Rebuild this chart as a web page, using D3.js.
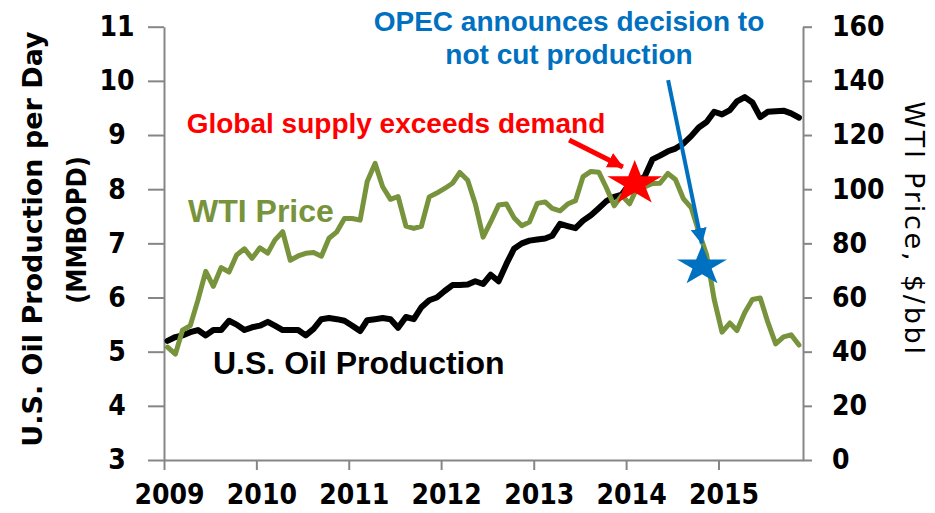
<!DOCTYPE html>
<html>
<head>
<meta charset="utf-8">
<script src="https://cdn.jsdelivr.net/npm/d3@7"></script>
<style>
  html, body { margin: 0; padding: 0; background: #fff; }
  svg { display: block; }
  .axis-font { font-family: "DejaVu Sans Condensed", "DejaVu Sans", sans-serif; font-stretch: condensed; }
  .title-wide { font-family: "DejaVu Sans", sans-serif; }
  .note { font-family: "Liberation Sans", Arial, sans-serif; font-weight: bold; }
</style>
</head>
<body>
<svg id="chart"></svg>
<script>
// Monthly series, Jan 2009 - Nov 2015
const wtiPrice = [
  41.68, 39.09, 47.94, 49.65, 59.03, 69.64, 64.15, 71.05, 69.41, 75.72, 77.99, 74.47, // 2009
  78.33, 76.39, 81.20, 84.29, 73.74, 75.34, 76.32, 76.60, 75.24, 81.89, 84.25, 89.15, // 2010
  89.17, 88.58, 102.86, 109.53, 100.90, 96.26, 97.30, 86.33, 85.52, 86.32, 97.16, 98.56, // 2011
  100.27, 102.20, 106.16, 103.32, 94.66, 82.30, 87.90, 94.13, 94.51, 89.49, 86.53, 87.86, // 2012
  94.76, 95.31, 92.94, 92.02, 94.51, 95.77, 104.67, 106.57, 106.29, 100.54, 93.86, 97.63, // 2013
  94.62, 100.82, 100.80, 102.07, 102.18, 105.79, 103.59, 96.54, 93.21, 84.40, 75.79, 59.29, // 2014
  47.22, 50.58, 47.82, 54.45, 59.27, 59.82, 50.90, 42.87, 45.48, 46.22, 42.44 // 2015
];

const usProduction = [
  5.20, 5.27, 5.30, 5.36, 5.40, 5.30, 5.40, 5.40, 5.57, 5.50, 5.40, 5.45, // 2009
  5.48, 5.55, 5.48, 5.40, 5.40, 5.40, 5.30, 5.42, 5.60, 5.62, 5.60, 5.57, // 2010
  5.48, 5.38, 5.58, 5.60, 5.62, 5.60, 5.44, 5.64, 5.60, 5.82, 5.95, 6.00, // 2011
  6.12, 6.23, 6.23, 6.24, 6.30, 6.25, 6.42, 6.30, 6.62, 6.90, 7.00, 7.05, // 2012
  7.07, 7.09, 7.14, 7.36, 7.32, 7.28, 7.42, 7.52, 7.65, 7.78, 7.86, 7.90, // 2013
  8.10, 8.15, 8.23, 8.55, 8.62, 8.70, 8.75, 8.84, 8.98, 9.14, 9.24, 9.43, // 2014
  9.38, 9.46, 9.62, 9.70, 9.60, 9.33, 9.43, 9.44, 9.45, 9.40, 9.32 // 2015
];

const yearTicks = [2009, 2010, 2011, 2012, 2013, 2014, 2015];
const leftTicks = [3, 4, 5, 6, 7, 8, 9, 10, 11];
const rightTicks = [0, 20, 40, 60, 80, 100, 120, 140, 160];

// Annotation anchors (date, WTI $/bbl)
const starDates = ["2014-02-04", "2014-10-28"];
const starPrices = [102.1, 71.6];
const arrowFrom = [["2013-05-21", 118.2], ["2014-06-16", 140.3]];
const arrowTo = [["2013-12-19", 108.2], ["2014-10-27", 80.0]];

const COLORS = { production: "#000000", wti: "#77933C", red: "#FF0000", blue: "#0070C0", axis: "#868686" };

const width = 935, height = 513;
const plot = { left: 164, right: 803, top: 26.7, bottom: 460 };

const parse = d3.timeParse("%Y-%m-%d");
const months = d3.timeMonth
  .range(new Date(2009, 0, 1), new Date(2015, 11, 1))
  .map((d) => d3.timeDay.offset(d, 14));

const x = d3.scaleTime()
  .domain([new Date(2009, 0, 1), new Date(2015, 11, 1)])
  .range([plot.left, plot.right]);
const yLeft = d3.scaleLinear().domain([3, 11]).range([plot.bottom, plot.top]);
const yRight = d3.scaleLinear().domain([0, 160]).range([plot.bottom, plot.top]);

const svg = d3.select("#chart").attr("width", width).attr("height", height);

// axes
const gx = svg.append("g")
  .attr("class", "axis-font")
  .attr("transform", `translate(0,${plot.bottom})`)
  .call(d3.axisBottom(x)
    .tickValues(yearTicks.map((y) => new Date(y, 0, 1)))
    .tickFormat(d3.timeFormat("%Y"))
    .tickSize(10).tickSizeOuter(0).tickPadding(14));

const gl = svg.append("g")
  .attr("class", "axis-font")
  .attr("transform", `translate(${plot.left},0)`)
  .call(d3.axisLeft(yLeft).tickValues(leftTicks).tickSize(16).tickSizeOuter(0));

const gr = svg.append("g")
  .attr("class", "axis-font")
  .attr("transform", `translate(${plot.right},0)`)
  .call(d3.axisRight(yRight).tickValues(rightTicks).tickSize(9).tickSizeOuter(0).tickPadding(20));

[gx, gl, gr].forEach((g) => {
  g.select(".domain").attr("stroke", COLORS.axis).attr("stroke-width", 2);
  g.selectAll(".tick line").attr("stroke", COLORS.axis).attr("stroke-width", 2);
  g.selectAll(".tick text")
    .attr("fill", "#000")
    .style("font-size", "28px")
    .style("font-weight", "bold");
});
gl.selectAll(".tick text").attr("x", -47).attr("text-anchor", "middle");
gx.selectAll(".tick text").attr("dx", 5);

// axis titles
svg.append("text")
  .attr("class", "title-wide")
  .attr("transform", "translate(42,239) rotate(-90)")
  .attr("text-anchor", "middle")
  .style("font-size", "27px")
  .style("font-weight", "bold")
  .text("U.S. Oil Production per Day");
svg.append("text")
  .attr("class", "axis-font")
  .attr("transform", "translate(86,230) rotate(-90)")
  .attr("text-anchor", "middle")
  .style("font-size", "27px")
  .style("font-weight", "bold")
  .text("(MMBOPD)");

svg.append("text")
  .attr("class", "title-wide")
  .attr("transform", "translate(905,229) rotate(90)")
  .attr("text-anchor", "middle")
  .style("font-size", "27px")
  .style("letter-spacing", "2.8px")
  .text("WTI Price, $/bbl");

// series lines
const prodLine = d3.line()
  .x((d, i) => x(months[i]))
  .y((d) => yLeft(d));
const wtiLine = d3.line()
  .x((d, i) => x(months[i]))
  .y((d) => yRight(d));

svg.append("path")
  .datum(usProduction)
  .attr("fill", "none")
  .attr("stroke", COLORS.production)
  .attr("stroke-width", 6)
  .attr("stroke-linejoin", "round")
  .attr("stroke-linecap", "round")
  .attr("d", prodLine);

svg.append("path")
  .datum(wtiPrice)
  .attr("fill", "none")
  .attr("stroke", COLORS.wti)
  .attr("stroke-width", 5)
  .attr("stroke-linejoin", "round")
  .attr("stroke-linecap", "round")
  .attr("d", wtiLine);

// series labels
svg.append("text").attr("class", "note")
  .attr("x", 188).attr("y", 222)
  .attr("fill", COLORS.wti)
  .style("font-size", "32px")
  .text("WTI Price");
svg.append("text").attr("class", "note")
  .attr("x", 213).attr("y", 374)
  .attr("fill", "#000")
  .style("font-size", "32px")
  .text("U.S. Oil Production");

// annotations
svg.append("text").attr("class", "note")
  .attr("x", 396).attr("y", 133)
  .attr("text-anchor", "middle")
  .attr("fill", COLORS.red)
  .style("font-size", "28px")
  .text("Global supply exceeds demand");

const opec = svg.append("text").attr("class", "note")
  .attr("text-anchor", "middle")
  .attr("fill", COLORS.blue)
  .style("font-size", "28px");
opec.append("tspan").attr("x", 569).attr("y", 31).text("OPEC announces decision to");
opec.append("tspan").attr("x", 569).attr("y", 64).text("not cut production");

// arrowheads
const defs = svg.append("defs");
[["head-red", COLORS.red], ["head-blue", COLORS.blue]].forEach(([id, c]) => {
  defs.append("marker")
    .attr("id", id)
    .attr("markerUnits", "userSpaceOnUse")
    .attr("viewBox", "0 0 16 16")
    .attr("refX", 15).attr("refY", 8)
    .attr("markerWidth", 16).attr("markerHeight", 16)
    .attr("orient", "auto")
    .append("path")
    .attr("d", "M0,0L16,8L0,16Z")
    .attr("fill", c);
});

const arrowColors = [COLORS.red, COLORS.blue];
const arrowWidths = [5, 4];
arrowFrom.forEach((from, i) => {
  const to = arrowTo[i];
  svg.append("line")
    .attr("x1", x(parse(from[0]))).attr("y1", yRight(from[1]))
    .attr("x2", x(parse(to[0]))).attr("y2", yRight(to[1]))
    .attr("stroke", arrowColors[i])
    .attr("stroke-width", arrowWidths[i])
    .attr("marker-end", `url(#${i === 0 ? "head-red" : "head-blue"})`);
});

// stars (slightly wider than tall, like the drawn shapes)
function starPath(cx, cy, rx, ry) {
  const pts = d3.range(10).map((k) => {
    const a = (k * Math.PI) / 5;
    const r = k % 2 === 0 ? 1 : 0.382;
    return [cx + r * rx * Math.sin(a), cy - r * ry * Math.cos(a)];
  });
  return "M" + pts.map((p) => p.join(",")).join("L") + "Z";
}
const starColors = [COLORS.red, COLORS.blue];
const starSizes = [[28.9, 23.6], [26.3, 21.2]];
starDates.forEach((d, i) => {
  svg.append("path")
    .attr("d", starPath(x(parse(d)), yRight(starPrices[i]), starSizes[i][0], starSizes[i][1]))
    .attr("fill", starColors[i]);
});
</script>
</body>
</html>
